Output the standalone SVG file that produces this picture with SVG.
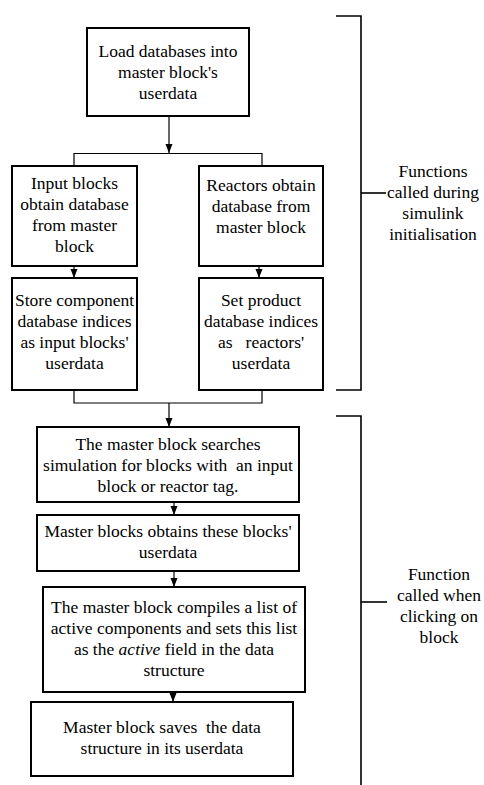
<svg xmlns="http://www.w3.org/2000/svg" width="484" height="785" viewBox="0 0 484 785">
<style>
.box{fill:#fff;stroke:#000;stroke-width:2}
.ln{fill:none;stroke:#000;stroke-width:1.2}
.br{fill:none;stroke:#000;stroke-width:1.6}
.t{font-family:'Liberation Serif','Times New Roman',serif;font-size:17.5px;fill:#000;text-anchor:middle}
</style>
<defs>
<marker id="ah" markerUnits="userSpaceOnUse" markerWidth="10" markerHeight="8" refX="9" refY="3.5" orient="auto">
<path d="M0,0 L9,3.5 L0,7 z" fill="#000"/>
</marker>
</defs>
<rect width="484" height="785" fill="#fff"/>
<g id="connectors">
<line class="ln" x1="169" y1="116" x2="169" y2="153" marker-end="url(#ah)"/>
<polyline class="ln" points="74,166 74,153.5 262,153.5 262,166"/>
<line class="ln" x1="74" y1="266" x2="74" y2="278" marker-end="url(#ah)"/>
<line class="ln" x1="259" y1="266" x2="259" y2="278" marker-end="url(#ah)"/>
<polyline class="ln" points="74,390 74,403 262,403 262,390"/>
<line class="ln" x1="169" y1="403" x2="169" y2="427" marker-end="url(#ah)"/>
<line class="ln" x1="174" y1="502" x2="174" y2="515" marker-end="url(#ah)"/>
<line class="ln" x1="174" y1="571" x2="174" y2="587" marker-end="url(#ah)"/>
<line class="ln" x1="173" y1="692" x2="173" y2="702" marker-end="url(#ah)"/>
</g>
<g id="load">
<rect class="box" x="87" y="28" width="162" height="88"/>
<text class="t" x="168" y="57">Load databases into</text>
<text class="t" x="168" y="78">master block's</text>
<text class="t" x="168" y="99">userdata</text>
</g>
<g id="input-obtain">
<rect class="box" x="12" y="166" width="125" height="100"/>
<text class="t" x="74.5" y="189">Input blocks</text>
<text class="t" x="74.5" y="210">obtain database</text>
<text class="t" x="74.5" y="231">from master</text>
<text class="t" x="74.5" y="252">block</text>
</g>
<g id="reactor-obtain">
<rect class="box" x="199" y="166" width="124" height="100"/>
<text class="t" x="261" y="191">Reactors obtain</text>
<text class="t" x="261" y="212">database from</text>
<text class="t" x="261" y="233">master block</text>
</g>
<g id="input-store">
<rect class="box" x="12" y="278" width="125" height="112"/>
<text class="t" x="74.5" y="306">Store component</text>
<text class="t" x="74.5" y="327">database indices</text>
<text class="t" x="74.5" y="348">as input blocks'</text>
<text class="t" x="74.5" y="369">userdata</text>
</g>
<g id="reactor-set">
<rect class="box" x="199" y="278" width="124" height="112"/>
<text class="t" x="261" y="306">Set product</text>
<text class="t" x="261" y="327">database indices</text>
<text class="t" x="261" y="348">as &#160; reactors'</text>
<text class="t" x="261" y="369">userdata</text>
</g>
<g id="search">
<rect class="box" x="37" y="427" width="262" height="75"/>
<text class="t" x="168" y="450">The master block searches</text>
<text class="t" x="168" y="471">simulation for blocks with &#160;an input</text>
<text class="t" x="168" y="492">block or reactor tag.</text>
</g>
<g id="obtain-userdata">
<rect class="box" x="37" y="515" width="262" height="56"/>
<text class="t" x="168" y="537">Master blocks obtains these blocks'</text>
<text class="t" x="168" y="558">userdata</text>
</g>
<g id="compile">
<rect class="box" x="43" y="587" width="262" height="105"/>
<text class="t" x="174" y="613">The master block compiles a list of</text>
<text class="t" x="174" y="634">active components and sets this list</text>
<text class="t" x="174" y="655">as the <tspan font-style="italic">active</tspan> field in the data</text>
<text class="t" x="174" y="676">structure</text>
</g>
<g id="save">
<rect class="box" x="31" y="702" width="262" height="74"/>
<text class="t" x="162" y="733">Master block saves &#160;the data</text>
<text class="t" x="162" y="754">structure in its userdata</text>
</g>
<g id="bracket-init">
<polyline class="br" points="336,16 361,16 361,390 336,390"/>
<line class="br" x1="361" y1="193" x2="386" y2="193"/>
<text class="t" x="433" y="177">Functions</text>
<text class="t" x="433" y="198">called during</text>
<text class="t" x="433" y="219">simulink</text>
<text class="t" x="433" y="240">initialisation</text>
</g>
<g id="bracket-click">
<polyline class="br" points="336,416 361,416 361,785"/>
<line class="br" x1="361" y1="602" x2="387" y2="602"/>
<text class="t" x="439" y="580">Function</text>
<text class="t" x="439" y="601">called when</text>
<text class="t" x="439" y="622">clicking on</text>
<text class="t" x="439" y="643">block</text>
</g>
</svg>
